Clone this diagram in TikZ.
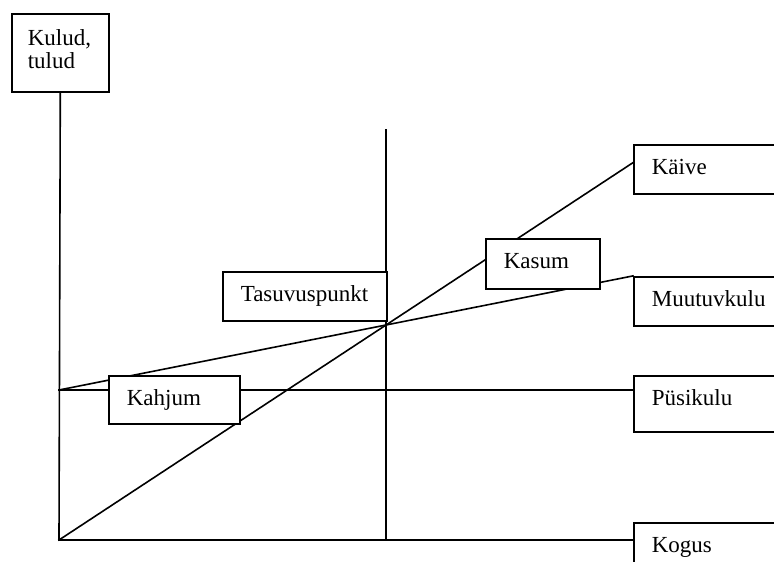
\documentclass[tikz,border=0pt]{standalone}
\usepackage{fontspec}
\setmainfont{Liberation Serif}
\usetikzlibrary{calc,backgrounds}

\begin{document}
\begin{tikzpicture}[
    x=1pt, y=-1pt,
    lbox/.style={
      draw, fill=white, line width=1.6pt,
      anchor=north west, align=left,
      inner xsep=18pt, inner ysep=0pt,
      text height=30pt,
      font=\fontsize{23}{23}\selectfont
    },
    ln/.style={line width=1.6pt, line cap=rect}
  ]
    \useasboundingbox (0,0) rectangle (774,562);
    \clip (0,0) rectangle (774,562);

    % Boxes
    \node[lbox, inner xsep=16pt, text width=65pt, text height=32pt, text depth=46pt] (kulud) at (11,13) {Kulud,\\tulud};
    \node[lbox, text width=121pt, text depth=19pt] (kaive) at (633,144) {Käive};
    \node[lbox, text width=78pt, text depth=20pt] (kasum) at (485,238) {Kasum};
    \node[lbox, text width=128pt, text depth=19pt] (tasuvus) at (222,271) {Tasuvuspunkt};
    \node[lbox, text width=121pt, text depth=19pt] (muutuv) at (633,276) {Muutuvkulu};
    \node[lbox, text width=95pt, text depth=18pt] (kahjum) at (108,375) {Kahjum};
    \node[lbox, text width=121pt, text depth=26pt] (pusikulu) at (633,375) {Püsikulu};
    \node[lbox, text width=121pt, text depth=30pt] (kogus) at (633,522) {Kogus};

    % Points
    \coordinate (origin) at (59,540);
    \coordinate (fixstart) at (59,390);
    \coordinate (bep) at (386,325);
    \coordinate (beptop) at (386,130);

    % Lines
    \begin{scope}[on background layer]
      \draw[ln] (kulud.south) -- (origin) -- (origin -| kogus.west);
      \draw[ln] (fixstart) -- (fixstart -| pusikulu.west);
      \draw[ln] (beptop) -- (origin -| beptop);
      \draw[ln] (origin) -- (intersection of origin--bep and kaive.north west--kaive.south west);
      \draw[ln] (fixstart) -- (intersection of fixstart--bep and muutuv.north west--muutuv.south west);
    \end{scope}

\end{tikzpicture}
\end{document}
